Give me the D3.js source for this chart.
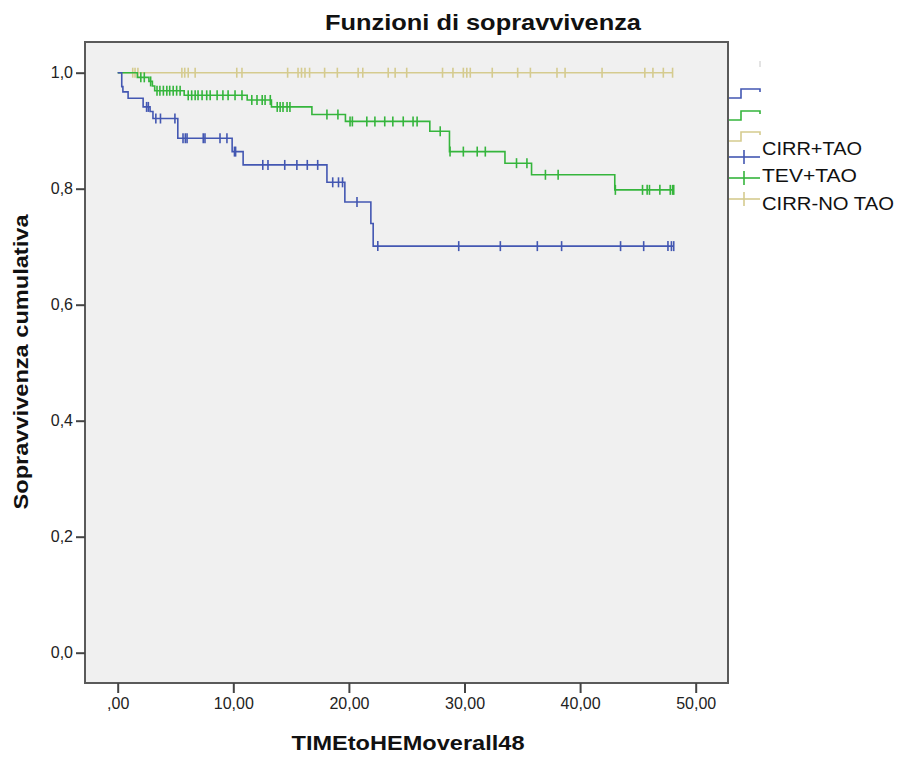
<!DOCTYPE html>
<html>
<head>
<meta charset="utf-8">
<script src="https://cdn.jsdelivr.net/npm/d3@7"></script>
<style>
  body { margin: 0; background: #fff; }
  svg { display: block; font-family: "Liberation Sans", Arial, sans-serif; }
</style>
</head>
<body>
<div id="chart"></div>
<script>
// groups and colours
const groups = ["CIRR+TAO", "TEV+TAO", "CIRR-NO TAO"];
const groupColors = ["#4357b2", "#35b53c", "#d5cb8f"];

// CIRR+TAO: event times, survival after each event, censored times
const cirrTaoTimes = [0.35, 0.45, 0.9, 2.2, 2.8, 3.05, 5.2, 9.9, 10.85, 18.1, 19.65, 21.9, 22.1];
const cirrTaoSurv = [0.976, 0.967, 0.956, 0.941, 0.933, 0.921, 0.887, 0.864, 0.841, 0.811, 0.777, 0.740, 0.701];
const cirrTaoCensor = [2.5, 2.65, 3.3, 3.7, 4.95, 5.65, 5.85, 6.0, 7.4, 7.55, 8.85, 9.45, 10.1, 10.2,
  12.55, 13.0, 14.45, 15.5, 16.4, 17.3, 18.6, 19.1, 19.45, 20.7, 22.5, 29.5, 33.1, 36.3, 38.4,
  43.5, 45.5, 47.6, 47.9, 48.1];

// TEV+TAO
const tevTaoTimes = [1.7, 2.7, 3.0, 3.2, 5.75, 11.2, 13.3, 16.8, 19.7, 27.0, 28.7, 33.5, 35.8, 43.0];
const tevTaoSurv = [0.992, 0.985, 0.977, 0.969, 0.961, 0.953, 0.941, 0.928, 0.916, 0.899, 0.864, 0.844, 0.824, 0.798];
const tevTaoCensor = [2.0, 2.3, 2.85, 3.4, 3.65, 3.95, 4.25, 4.5, 4.8, 5.1, 5.4, 6.1, 6.4, 6.7, 6.95,
  7.3, 7.7, 8.0, 8.6, 9.1, 9.55, 10.15, 10.75, 11.6, 12.05, 12.5, 12.75, 13.2, 13.8, 14.05, 14.3,
  14.65, 14.9, 18.1, 19.05, 20.1, 20.3, 21.55, 22.25, 23.1, 23.8, 24.7, 25.55, 25.9, 27.9, 28.75,
  29.9, 31.1, 31.8, 34.5, 35.4, 37.0, 38.1, 43.05, 45.4, 45.8, 46.0, 46.9, 47.8, 48.0, 48.1];

// CIRR-NO TAO (no events)
const cirrNoTaoTimes = [];
const cirrNoTaoSurv = [];
const cirrNoTaoCensor = [1.3, 1.5, 1.75, 5.55, 5.8, 6.1, 6.7, 10.3, 10.75, 14.7, 15.6, 15.9, 16.2,
  16.6, 17.9, 19.0, 20.8, 21.2, 23.4, 24.0, 25.0, 28.1, 29.0, 29.9, 30.2, 30.5, 32.4, 34.6, 35.7,
  38.0, 38.7, 41.9, 45.6, 46.3, 47.2, 48.0];

const xTicks = [0, 10, 20, 30, 40, 50];
const yTicks = [0, 0.2, 0.4, 0.6, 0.8, 1.0];

const title = "Funzioni di sopravvivenza";
const xTitle = "TIMEtoHEMoverall48";
const yTitle = "Sopravvivenza cumulativa";

const width = 897, height = 760;
const frame = {left: 85, right: 728, top: 42, bottom: 683};

const svg = d3.select("#chart").append("svg")
  .attr("width", width)
  .attr("height", height);

const x = d3.scaleLinear().domain([0, 50]).range([117.7, 695.7]);
const y = d3.scaleLinear().domain([0, 1]).range([652.7, 72.7]);

// plot frame
svg.append("rect")
  .attr("x", frame.left).attr("y", frame.top)
  .attr("width", frame.right - frame.left)
  .attr("height", frame.bottom - frame.top)
  .attr("fill", "#f0f0f0")
  .attr("stroke", "#5a5a5a")
  .attr("stroke-width", 2);

const commaFmt = function(f, stripZero) {
  return function(d) {
    let s = d3.format(f)(d).replace(".", ",");
    if (stripZero && d === 0) s = s.replace(/^0/, "");
    return s;
  };
};

const yAxis = svg.append("g")
  .attr("transform", "translate(" + frame.left + ",0)")
  .call(d3.axisLeft(y).tickValues(yTicks).tickSize(9).tickPadding(3).tickFormat(commaFmt(".1f", false)));

const xAxis = svg.append("g")
  .attr("transform", "translate(0," + frame.bottom + ")")
  .call(d3.axisBottom(x).tickValues(xTicks).tickSize(10).tickPadding(5).tickFormat(commaFmt(".2f", true)));

[yAxis, xAxis].forEach(function(g) {
  g.select(".domain").remove();
  g.selectAll(".tick line").attr("stroke", "#444").attr("stroke-width", 2);
  g.selectAll(".tick text")
    .attr("fill", "#222")
    .style("font-size", "16px")
    .style("font-family", "'Liberation Sans', Arial, sans-serif");
});

// survival series
const series = [
  {name: groups[2], color: groupColors[2], times: cirrNoTaoTimes, surv: cirrNoTaoSurv, censor: cirrNoTaoCensor},
  {name: groups[1], color: groupColors[1], times: tevTaoTimes, surv: tevTaoSurv, censor: tevTaoCensor},
  {name: groups[0], color: groupColors[0], times: cirrTaoTimes, surv: cirrTaoSurv, censor: cirrTaoCensor}
];

function survAt(s, t) {
  let v = 1;
  for (let i = 0; i < s.times.length; i++) {
    if (s.times[i] <= t) v = s.surv[i];
  }
  return v;
}

const line = d3.line()
  .x(function(d) { return x(d[0]); })
  .y(function(d) { return y(d[1]); })
  .curve(d3.curveStepAfter);

series.forEach(function(s) {
  const pts = [[0, 1]];
  s.times.forEach(function(t, i) { pts.push([t, s.surv[i]]); });
  const tEnd = d3.max(s.censor);
  pts.push([tEnd, survAt(s, tEnd)]);

  const g = svg.append("g").attr("class", "series");
  g.append("path")
    .attr("d", line(pts))
    .attr("fill", "none")
    .attr("stroke", s.color)
    .attr("stroke-width", 1.6);

  g.selectAll("line.censor")
    .data(s.censor)
    .enter().append("line")
    .attr("class", "censor")
    .attr("x1", function(d) { return x(d); })
    .attr("x2", function(d) { return x(d); })
    .attr("y1", function(d) { return y(survAt(s, d)) - 5; })
    .attr("y2", function(d) { return y(survAt(s, d)) + 5; })
    .attr("stroke", s.color)
    .attr("stroke-width", 1.6);
});

// titles
svg.append("text")
  .attr("x", 483).attr("y", 30)
  .attr("text-anchor", "middle")
  .style("font-size", "22px").style("font-weight", "bold")
  .attr("textLength", 316).attr("lengthAdjust", "spacingAndGlyphs")
  .attr("fill", "#111")
  .text(title);

svg.append("text")
  .attr("x", 408).attr("y", 750)
  .attr("text-anchor", "middle")
  .style("font-size", "20px").style("font-weight", "bold")
  .attr("textLength", 233).attr("lengthAdjust", "spacingAndGlyphs")
  .attr("fill", "#111")
  .text(xTitle);

svg.append("text")
  .attr("transform", "translate(28,362) rotate(-90)")
  .attr("text-anchor", "middle")
  .style("font-size", "20px").style("font-weight", "bold")
  .attr("textLength", 295).attr("lengthAdjust", "spacingAndGlyphs")
  .attr("fill", "#111")
  .text(yTitle);

// legend
const legend = svg.append("g").attr("class", "legend");
legend.append("line")
  .attr("x1", 760).attr("x2", 760).attr("y1", 61).attr("y2", 67)
  .attr("stroke", "#c8c8c8").attr("stroke-width", 1);

const stepLegendY = [89, 111, 132];
const plusLegendY = [157, 178, 199];
const labelBaseY = [155, 182, 210];
const labelWidths = [100, 95, 132];

groups.forEach(function(name, i) {
  const c = groupColors[i];
  const sy = stepLegendY[i];
  legend.append("path")
    .attr("d", "M729," + (sy + 9) + "H741V" + sy + "H760V" + (sy + 3))
    .attr("fill", "none").attr("stroke", c).attr("stroke-width", 1.6);
  const py = plusLegendY[i];
  legend.append("line")
    .attr("x1", 729).attr("x2", 760).attr("y1", py).attr("y2", py)
    .attr("stroke", c).attr("stroke-width", 1.6);
  legend.append("line")
    .attr("x1", 744).attr("x2", 744).attr("y1", py - 7).attr("y2", py + 7)
    .attr("stroke", c).attr("stroke-width", 1.6);
  legend.append("text")
    .attr("x", 762).attr("y", labelBaseY[i])
    .style("font-size", "19px")
    .attr("textLength", labelWidths[i]).attr("lengthAdjust", "spacingAndGlyphs")
    .attr("fill", "#111")
    .text(name);
});
</script>
</body>
</html>
